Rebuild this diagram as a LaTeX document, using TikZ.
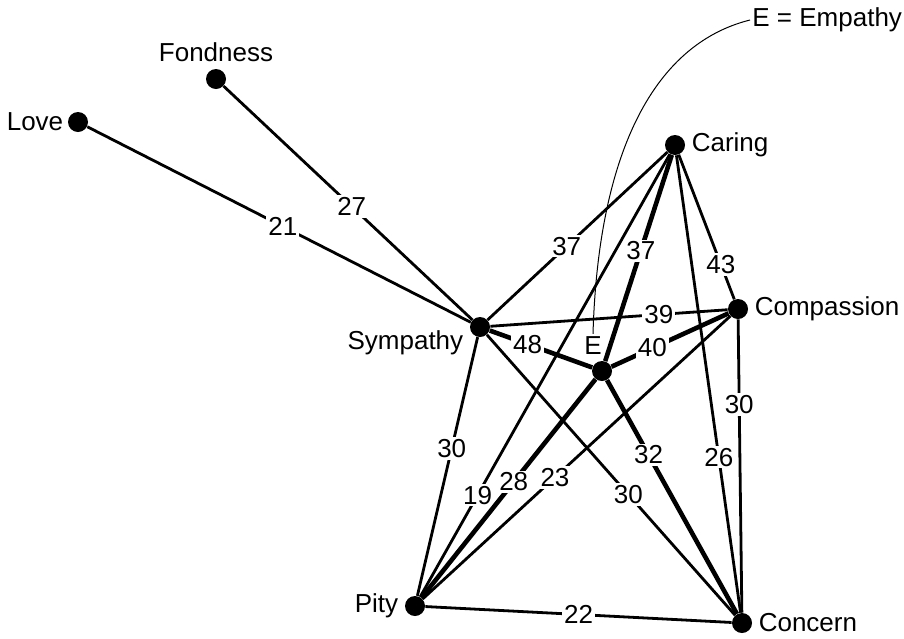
\documentclass[tikz,border=0pt]{standalone}
\usepackage{fontspec}
\setmainfont{Liberation Sans}
\usetikzlibrary{positioning,calc}

\begin{document}
\begin{tikzpicture}[x=0.5pt,y=-0.5pt,font=\fontsize{13}{15}\selectfont,
  dot/.style={circle,fill=black,inner sep=0pt,minimum size=10pt},
  tie/.style={line width=1.4pt},
  strongtie/.style={line width=2.3pt},
  val/.style={fill=white,inner sep=1pt},
  every label/.style={inner sep=1pt}]
  \useasboundingbox (0,0) rectangle (904,638);
  % --- terms (pixel grid 904 x 638) ---
  \node[dot,label={[label distance=1pt]left:Love}] (love) at (78,122) {};
  \node[dot,label={[label distance=2pt]above:Fondness}] (fond) at (216,79) {};
  \node[dot,label={[label distance=2pt,yshift=-8pt]left:Sympathy}] (sym) at (480,327) {};
  \node[dot,label={[label distance=2pt]right:Caring}] (car) at (675,145) {};
  \node[dot,label={[label distance=2pt]right:Compassion}] (comp) at (738,309) {};
  \node[dot,label={[name=elab,label distance=2pt,xshift=-4.5pt]above:E}] (emp) at (602,371) {};
  \node[dot,label={[label distance=2pt]left:Pity}] (pity) at (415,606) {};
  \node[dot,label={[label distance=2pt]right:Concern}] (conc) at (742,623) {};
  % --- ties to Sympathy ---
  \draw[tie] (love) -- node[val,pos=.51] {21} (sym);
  \draw[tie] (fond) -- node[val,pos=.515] {27} (sym);
  \draw[tie] (sym) -- node[val,pos=.44] {37} (car);
  \draw[tie] (sym) -- node[val,pos=.71] {39} (comp);
  \draw[tie] (sym) -- node[val,pos=.43] {30} (pity);
  \draw[tie] (sym) -- node[val,pos=.57] {30} (conc);
  % --- ties among the others ---
  \draw[tie] (car) -- node[val,pos=.76] {43} (comp);
  \draw[tie] (pity) -- node[val,pos=.23] {19} (car);
  \draw[tie] (car) -- node[val,pos=.66] {26} (conc);
  \draw[tie] (pity) -- node[val,pos=.43] {23} (comp);
  \draw[tie] (comp) -- node[val,pos=.29] {30} (conc);
  \draw[tie] (pity) -- node[val,pos=.5] {22} (conc);
  % --- ties to Empathy (heavier) ---
  \draw[strongtie] (sym) -- node[val,pos=.37] {48} (emp);
  \draw[strongtie] (emp) -- node[val,pos=.535] {37} (car);
  \draw[strongtie] (emp) -- node[val,pos=.35] {40} (comp);
  \draw[strongtie] (pity) -- node[val,pos=.53] {28} (emp);
  \draw[strongtie] (emp) -- node[val,pos=.32] {32} (conc);
  % key
  \node[anchor=west,inner sep=1pt] (key) at (750,20) {E = Empathy};
  \draw[line width=0.5pt] (key.west) .. controls (650,45) and (598,160) .. (elab.north);
\end{tikzpicture}
\end{document}
